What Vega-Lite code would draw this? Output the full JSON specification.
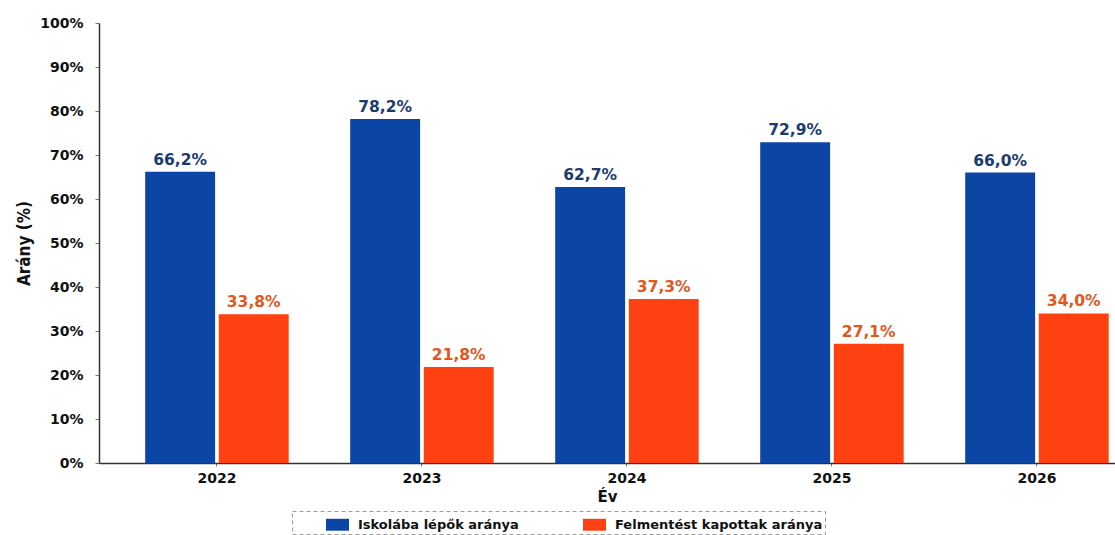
{
  "$schema": "https://vega.github.io/schema/vega-lite/v6.json",
  "autosize": "none",
  "width": 1016,
  "height": 440,
  "padding": {"left": 99, "top": 23, "right": 0, "bottom": 72},
  "background": "white",
  "config": {
    "locale": {"number": {"decimal": ",", "thousands": " ", "grouping": [3], "currency": ["", " Ft"]}},
    "view": {"stroke": null},
    "font": "DejaVu Sans",
    "legend": {"strokeColor": "#9a9a9a", "strokeDash": [4, 3]}
  },
  "data": {
    "values": [
      {"ev": "2022", "sorozat": "Iskolába lépők aránya", "arany": 0.662},
      {"ev": "2022", "sorozat": "Felmentést kapottak aránya", "arany": 0.338},
      {"ev": "2023", "sorozat": "Iskolába lépők aránya", "arany": 0.782},
      {"ev": "2023", "sorozat": "Felmentést kapottak aránya", "arany": 0.218},
      {"ev": "2024", "sorozat": "Iskolába lépők aránya", "arany": 0.627},
      {"ev": "2024", "sorozat": "Felmentést kapottak aránya", "arany": 0.373},
      {"ev": "2025", "sorozat": "Iskolába lépők aránya", "arany": 0.729},
      {"ev": "2025", "sorozat": "Felmentést kapottak aránya", "arany": 0.271},
      {"ev": "2026", "sorozat": "Iskolába lépők aránya", "arany": 0.660},
      {"ev": "2026", "sorozat": "Felmentést kapottak aránya", "arany": 0.340}
    ]
  },
  "encoding": {
    "x": {
      "field": "ev", "type": "nominal",
      "scale": {"paddingInner": 0.3, "paddingOuter": 0.128, "align": 0.88},
      "axis": {
        "title": "Év", "labelAngle": 0,
        "labelFont": "DejaVu Sans", "labelFontWeight": "bold", "labelFontSize": 14, "labelColor": "#111",
        "labelPadding": 5, "tickSize": 3, "tickColor": "#777",
        "domainColor": "#333", "domainWidth": 1.5,
        "titleFont": "DejaVu Sans", "titleFontWeight": "bold", "titleFontSize": 15, "titleColor": "#111",
        "titlePadding": 4
      }
    },
    "xOffset": {
      "field": "sorozat", "type": "nominal",
      "sort": ["Iskolába lépők aránya", "Felmentést kapottak aránya"],
      "scale": {"paddingInner": 0.05, "paddingOuter": 0}
    },
    "y": {
      "field": "arany", "type": "quantitative",
      "scale": {"domain": [0, 1], "nice": false},
      "axis": {
        "title": "Arány (%)", "format": ".0%", "values": [0, 0.1, 0.2, 0.3, 0.4, 0.5, 0.6, 0.7, 0.8, 0.9, 1],
        "grid": false,
        "labelFont": "DejaVu Sans", "labelFontWeight": "bold", "labelFontSize": 14, "labelColor": "#111",
        "labelPadding": 12, "tickSize": 4, "tickColor": "#777",
        "domainColor": "#333", "domainWidth": 1.5,
        "titleFont": "Liberation Sans Narrow, DejaVu Sans Condensed, Liberation Sans", "titleFontWeight": "bold", "titleFontSize": 17, "titleColor": "#111",
        "titlePadding": 6
      }
    }
  },
  "layer": [
    {
      "mark": {"type": "bar"},
      "encoding": {
        "color": {
          "field": "sorozat", "type": "nominal",
          "scale": {"domain": ["Iskolába lépők aránya", "Felmentést kapottak aránya"], "range": ["#0b45a6", "#ff4010"]},
          "legend": {
            "title": null, "orient": "none", "direction": "horizontal",
            "legendX": 193, "legendY": 488,
            "padding": 2,
            "symbolType": "M-1,-0.52H1V0.52H-1Z", "symbolSize": 529, "symbolStrokeWidth": 0,
            "symbolOffset": 32,
            "labelFont": "DejaVu Sans", "labelFontWeight": "bold", "labelFontSize": 13, "labelColor": "#111",
            "labelOffset": 9, "columnPadding": 32, "labelLimit": 400
          }
        }
      }
    },
    {
      "mark": {"type": "text", "baseline": "alphabetic", "dy": -7, "font": "DejaVu Sans", "fontWeight": "bold", "fontSize": 15.5},
      "encoding": {
        "text": {"field": "arany", "type": "quantitative", "format": ".1%"},
        "color": {
          "condition": {"test": "datum.sorozat === 'Iskolába lépők aránya'", "value": "#1c3c6e"},
          "value": "#e2581c"
        }
      }
    }
  ]
}
